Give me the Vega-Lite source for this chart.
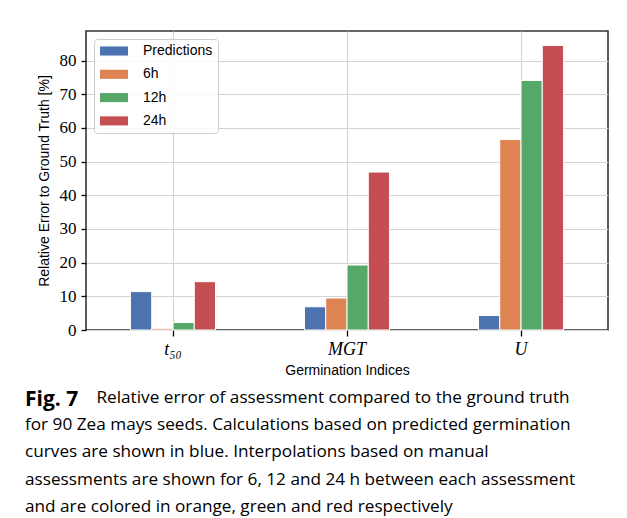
{
  "$schema": "https://vega.github.io/schema/vega-lite/v6.json",
  "width": 522,
  "height": 299,
  "padding": {"left": 25, "top": 31, "right": 16, "bottom": 5},
  "background": "white",
  "title": {
    "text": "Fig. 7",
    "subtitle": [
      "\u200b\u00a0\u00a0\u00a0\u00a0\u00a0\u00a0\u00a0\u00a0\u00a0\u00a0\u00a0\u00a0\u00a0\u00a0\u00a0\u00a0Relative error of assessment compared to the ground truth",
      "for 90 Zea mays seeds. Calculations based on predicted germination",
      "curves are shown in blue. Interpolations based on manual",
      "assessments are shown for 6, 12 and 24 h between each assessment",
      "and are colored in orange, green and red respectively"
    ],
    "orient": "bottom",
    "anchor": "start",
    "frame": "bounds",
    "dx": -12,
    "offset": 12,
    "font": "Open Sans",
    "fontSize": 21,
    "fontWeight": "bold",
    "color": "black",
    "subtitleFont": "Open Sans",
    "subtitleFontSize": 17.2,
    "subtitleColor": "black",
    "subtitleLineHeight": 27.2,
    "subtitlePadding": -21
  },
  "data": {
    "values": [
      {"index": "t50", "series": "Predictions", "value": 11.4},
      {"index": "t50", "series": "6h", "value": 0.5},
      {"index": "t50", "series": "12h", "value": 2.2},
      {"index": "t50", "series": "24h", "value": 14.35},
      {"index": "MGT", "series": "Predictions", "value": 6.9},
      {"index": "MGT", "series": "6h", "value": 9.5},
      {"index": "MGT", "series": "12h", "value": 19.3},
      {"index": "MGT", "series": "24h", "value": 46.9},
      {"index": "U", "series": "Predictions", "value": 4.3},
      {"index": "U", "series": "6h", "value": 56.6},
      {"index": "U", "series": "12h", "value": 74.1},
      {"index": "U", "series": "24h", "value": 84.5}
    ]
  },
  "mark": {"type": "bar", "stroke": "white", "strokeWidth": 1},
  "encoding": {
    "x": {
      "field": "index",
      "type": "nominal",
      "sort": ["t50", "MGT", "U"],
      "scale": {"paddingInner": 0.511, "paddingOuter": 0.2555},
      "axis": {
        "title": "Germination Indices",
        "labelExpr": "datum.value == 't50' ? 't\u2085\u2080' : datum.value",
        "labelAngle": 0,
        "labelFont": "Liberation Serif",
        "labelFontStyle": "italic",
        "labelFontSize": 18,
        "labelColor": "black",
        "labelPadding": 4,
        "tickSize": 6,
        "tickColor": "black",
        "tickWidth": 1.3,
        "bandPosition": 0.5,
        "grid": true,
        "gridColor": "#d3d3d3",
        "gridWidth": 1.2,
        "domain": false,
        "titleFont": "Liberation Sans",
        "titleFontSize": 14,
        "titleFontWeight": "normal",
        "titleColor": "black",
        "titlePadding": 5
      }
    },
    "xOffset": {
      "field": "series",
      "type": "nominal",
      "sort": ["Predictions", "6h", "12h", "24h"],
      "scale": {"paddingInner": 0, "paddingOuter": 0}
    },
    "y": {
      "field": "value",
      "type": "quantitative",
      "scale": {"domain": [0, 88.8], "nice": false},
      "axis": {
        "values": [0, 10, 20, 30, 40, 50, 60, 70, 80],
        "title": "Relative Error to Ground Truth [%]",
        "labelFont": "Liberation Serif",
        "labelFontSize": 17,
        "labelColor": "black",
        "labelPadding": 5,
        "tickSize": 5,
        "tickColor": "black",
        "tickWidth": 1.3,
        "domain": false,
        "grid": true,
        "gridColor": "#d3d3d3",
        "gridWidth": 1.2,
        "titleFont": "Liberation Sans",
        "titleFontSize": 14,
        "titleFontWeight": "normal",
        "titleColor": "black",
        "titlePadding": 8
      }
    },
    "color": {
      "field": "series",
      "type": "nominal",
      "scale": {
        "domain": ["Predictions", "6h", "12h", "24h"],
        "range": ["#4C72B0", "#DD8452", "#55A868", "#C44E52"]
      },
      "legend": {
        "title": null,
        "orient": "top-left",
        "offset": 8,
        "symbolType": "M-2,-0.65H2V0.65H-2Z",
        "symbolSize": 196,
        "symbolOffset": 8,
        "symbolStrokeWidth": 0,
        "symbolOpacity": 1,
        "labelFont": "Liberation Sans",
        "labelFontSize": 14,
        "labelColor": "black",
        "labelOffset": 22,
        "padding": 5,
        "rowPadding": 9.3,
        "strokeColor": "#cccccc",
        "fillColor": "rgba(255,255,255,0.85)",
        "cornerRadius": 3
      }
    }
  },
  "config": {
    "view": {"stroke": "#333333", "strokeWidth": 1.6}
  }
}
